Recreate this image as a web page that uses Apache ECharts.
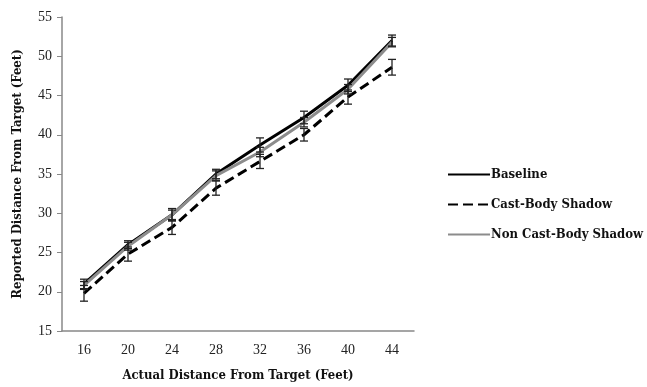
<!DOCTYPE html>
<html>
<head>
<meta charset="utf-8">
<script src="https://cdn.jsdelivr.net/npm/echarts@6/dist/echarts.min.js"></script>
<style>
    html, body { margin: 0; padding: 0; background: #fff; }
    #chart { width: 647px; height: 387px; }
</style>
</head>
<body>
<div id="chart"></div>
<script>
const categories = ['16', '20', '24', '28', '32', '36', '40', '44'];

const baseline = [21.0, 26.0, 29.8, 35.0, 38.7, 42.2, 46.3, 52.0];
const baselineErr = [0.6, 0.5, 0.8, 0.6, 0.9, 0.8, 0.8, 0.7];

const castBody = [19.8, 24.8, 28.2, 33.2, 36.6, 40.0, 44.8, 48.6];
const castBodyErr = [1.0, 0.9, 0.9, 0.9, 0.9, 0.8, 0.9, 1.0];

const nonCastBody = [20.8, 25.8, 29.8, 34.8, 37.8, 41.6, 45.8, 51.8];
const nonCastBodyErr = [0.5, 0.5, 0.6, 0.6, 0.6, 0.6, 0.6, 0.6];

const yTicks = { min: 15, max: 55, interval: 5 };

const FONT = 'Liberation Serif';
const TITLE_FONT = 'DejaVu Serif Condensed';

const chartDom = document.getElementById('chart');
const myChart = echarts.init(chartDom, null, { renderer: 'canvas' });

// Error bars drawn as a custom series on the same axes
const errorSeries = (name, values, errs) => ({
    name: name + ' err',
    type: 'custom',
    silent: true,
    z: 5,
    data: values.map((v, i) => [i, v - errs[i], v + errs[i]]),
    renderItem: (params, api) => {
        const low = api.coord([api.value(0), api.value(1)]);
        const high = api.coord([api.value(0), api.value(2)]);
        const half = 4;
        const style = { stroke: '#222', lineWidth: 1.3 };
        return {
            type: 'group',
            children: [
                { type: 'line', shape: { x1: low[0], y1: low[1], x2: high[0], y2: high[1] }, style },
                { type: 'line', shape: { x1: low[0] - half, y1: low[1], x2: low[0] + half, y2: low[1] }, style },
                { type: 'line', shape: { x1: high[0] - half, y1: high[1], x2: high[0] + half, y2: high[1] }, style },
            ],
        };
    },
});

const lineSeries = (name, values, color, type, z) => ({
    name,
    type: 'line',
    data: values,
    symbol: 'none',
    z,
    lineStyle: { color, width: 3, type },
    itemStyle: { color },
});

myChart.setOption({
    animation: false,
    backgroundColor: '#fff',
    grid: {
        left: 62,
        right: 233,
        top: 17,
        bottom: 52,
        containLabel: false,
    },
    legend: {
        orient: 'vertical',
        left: 442,
        top: 163,
        itemWidth: 42,
        itemHeight: 10,
        itemGap: 17,
        data: ['Baseline', 'Cast-Body Shadow', 'Non Cast-Body Shadow'],
        itemStyle: { opacity: 0 },
        textStyle: {
            fontFamily: TITLE_FONT,
            fontWeight: 'bold',
            fontSize: 13,
            color: '#111',
            padding: [0, 0, 0, -4],
        },
    },
    xAxis: {
        type: 'category',
        data: categories,
        boundaryGap: true,
        name: 'Actual Distance From Target (Feet)',
        nameLocation: 'middle',
        nameGap: 38,
        nameTextStyle: { fontFamily: TITLE_FONT, fontWeight: 'bold', fontSize: 13, color: '#111' },
        axisLine: { lineStyle: { color: '#888', width: 1.5 } },
        axisTick: { length: 5, lineStyle: { color: '#888' } },
        axisLabel: { fontFamily: FONT, fontSize: 14, color: '#222', margin: 12 },
        splitLine: { show: false },
    },
    yAxis: {
        type: 'value',
        min: yTicks.min,
        max: yTicks.max,
        interval: yTicks.interval,
        name: 'Reported Distance From Target (Feet)',
        nameLocation: 'middle',
        nameGap: 38,
        nameTextStyle: { fontFamily: TITLE_FONT, fontWeight: 'bold', fontSize: 13, color: '#111' },
        axisLine: { show: true, lineStyle: { color: '#888', width: 1.5 } },
        axisTick: { show: true, length: 5, lineStyle: { color: '#888' } },
        axisLabel: { fontFamily: FONT, fontSize: 14, color: '#222', margin: 10 },
        splitLine: { show: false },
    },
    series: [
        lineSeries('Baseline', baseline, '#000', 'solid', 2),
        lineSeries('Cast-Body Shadow', castBody, '#000', [10, 5], 3),
        lineSeries('Non Cast-Body Shadow', nonCastBody, '#8c8c8c', 'solid', 4),
        errorSeries('Baseline', baseline, baselineErr),
        errorSeries('Cast-Body Shadow', castBody, castBodyErr),
        errorSeries('Non Cast-Body Shadow', nonCastBody, nonCastBodyErr),
    ],
});
</script>
</body>
</html>
